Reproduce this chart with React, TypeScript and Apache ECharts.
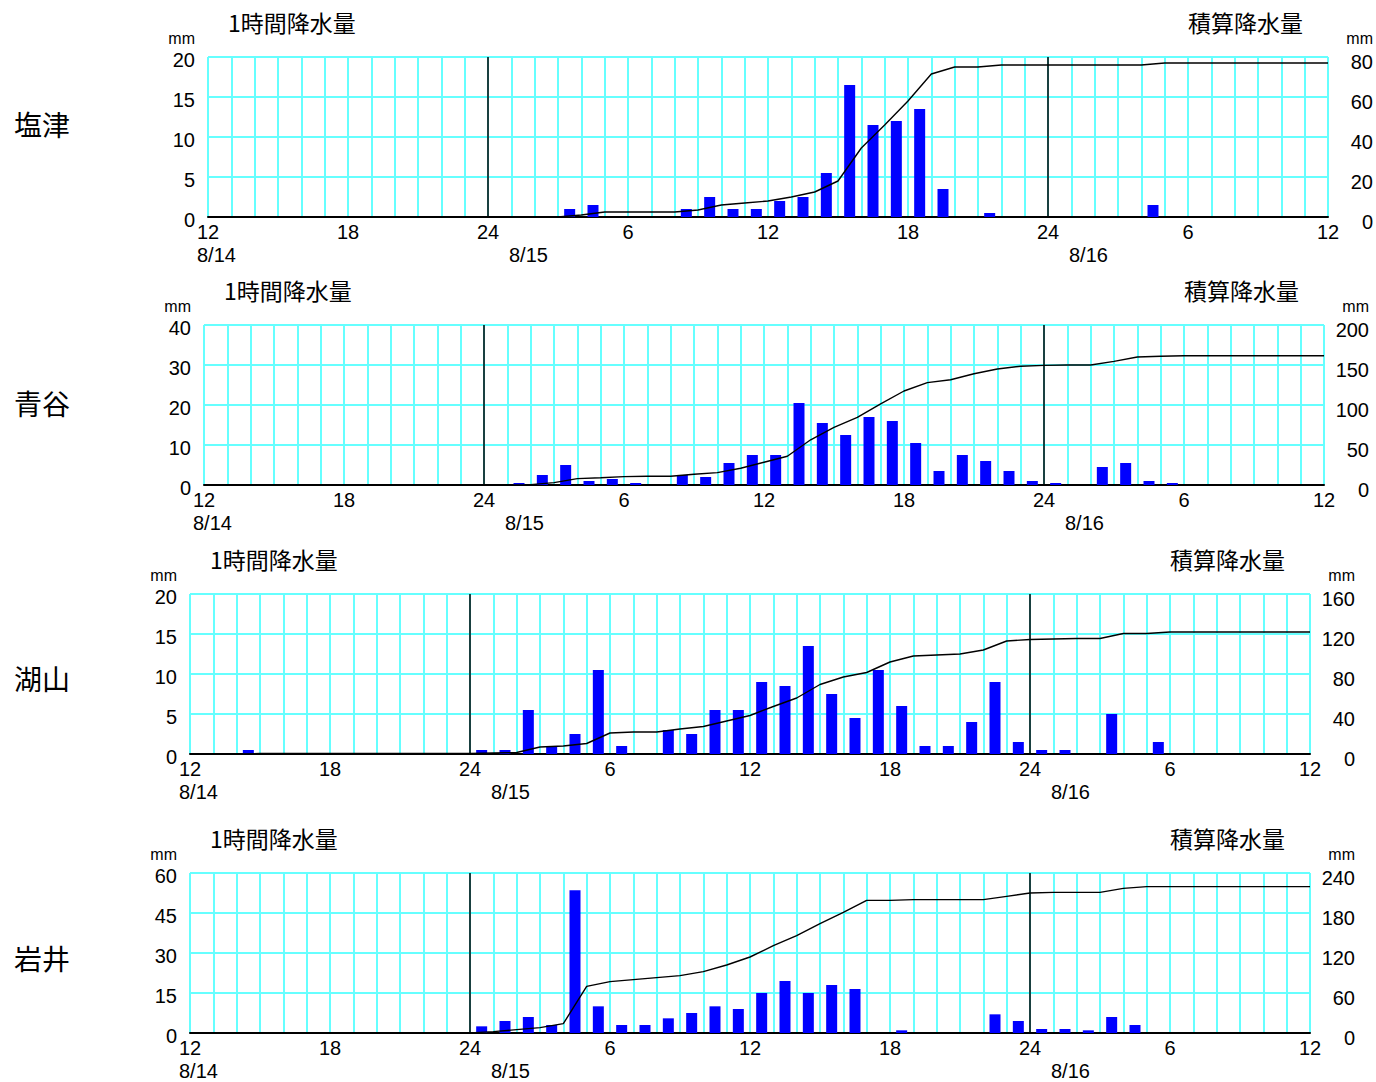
import React, { useEffect, useRef } from "react";
import * as echarts from "echarts";

// ---- data ----
const STATIONS = ["塩津", "青谷", "湖山", "岩井"];
const X_TICK_LABELS = ["12", "18", "24", "6", "12", "18", "24", "6", "12"];
const DATE_LABELS = ["8/14", "8/15", "8/16"];
const LEFT_TITLE = "1時間降水量";
const RIGHT_TITLE = "積算降水量";
const UNIT = "mm";

// hourly rainfall (mm), 48 hourly cells from 8/14 12:00 to 8/16 12:00
const hourlyShiotsu = [
  0, 0, 0, 0, 0, 0, 0, 0, 0, 0, 0, 0,
  0, 0, 0, 1, 1.5, 0, 0, 0, 1, 2.5, 1, 1,
  2, 2.5, 5.5, 16.5, 11.5, 12, 13.5, 3.5, 0, 0.5, 0, 0,
  0, 0, 0, 0, 1.5, 0, 0, 0, 0, 0, 0, 0,
];
const hourlyAoya = [
  0, 0, 0, 0, 0, 0, 0, 0, 0, 0, 0, 0,
  0, 0.5, 2.5, 5, 1, 1.5, 0.5, 0, 2.5, 2, 5.5, 7.5,
  7.5, 20.5, 15.5, 12.5, 17, 16, 10.5, 3.5, 7.5, 6, 3.5, 1,
  0.5, 0, 4.5, 5.5, 1, 0.5, 0, 0, 0, 0, 0, 0,
];
const hourlyKoyama = [
  0, 0, 0.5, 0, 0, 0, 0, 0, 0, 0, 0, 0,
  0.5, 0.5, 5.5, 1, 2.5, 10.5, 1, 0, 3, 2.5, 5.5, 5.5,
  9, 8.5, 13.5, 7.5, 4.5, 10.5, 6, 1, 1, 4, 9, 1.5,
  0.5, 0.5, 0, 5, 0, 1.5, 0, 0, 0, 0, 0, 0,
];
const hourlyIwai = [
  0, 0, 0, 0, 0, 0, 0, 0, 0, 0, 0, 0,
  2.5, 4.5, 6, 3, 53.5, 10, 3, 3, 5.5, 7.5, 10, 9,
  15, 19.5, 15, 18, 16.5, 0, 1, 0, 0, 0, 7, 4.5,
  1.5, 1.5, 1, 6, 3, 0, 0, 0, 0, 0, 0, 0,
];

// cumulative rainfall (mm) at the 49 hour boundaries (null = not drawn)
const N = null;
const cumShiotsu = [
  N, N, N, N, N, N, N, N, N, N, N, N, N, N, N,
  0, 1, 2.5, 2.5, 2.5, 2.5, 3.5, 6, 7, 8, 10, 12.5, 18, 34.5, 46, 58, 71.5, 75, 75, 76,
  76, 76, 76, 76, 76, 76, 77, 77, 77, 77, 77, 77, 77, 77,
];
const cumAoya = [
  N, N, N, N, N, N, N, N, N, N, N, N, N,
  0, 0.5, 3, 8, 9, 10.5, 11, 11, 13.5, 15.5, 21, 28.5, 36, 56.5, 72, 84.5, 101.5, 117.5,
  128, 131.5, 139, 145, 148.5, 149.5, 150, 150, 154.5, 160, 161, 161.5,
  161.5, 161.5, 161.5, 161.5, 161.5, 161.5,
];
const cumKoyama = [
  N, N,
  0, 0.5, 0.5, 0.5, 0.5, 0.5, 0.5, 0.5, 0.5, 0.5, 0.5,
  1, 1.5, 7, 8, 10.5, 21, 22, 22, 25, 27.5, 33, 38.5, 47.5, 56, 69.5, 77, 81.5, 92,
  98, 99, 100, 104, 113, 114.5, 115, 115.5, 115.5, 120.5, 120.5, 122,
  122, 122, 122, 122, 122, 122,
];
const cumIwai = [
  N, N, N, N, N, N, N, N, N, N, N, N,
  0, 2, 5, 8, 14, 70, 77, 80, 83, 86, 92, 102, 114, 131, 146, 164, 181, 199,
  199, 200, 200, 200, 200, 205, 210, 211, 211, 211, 217, 219.5,
  219.5, 219.5, 219.5, 219.5, 219.5, 219.5, 219.5,
];

const HOURLY = [hourlyShiotsu, hourlyAoya, hourlyKoyama, hourlyIwai];
const CUMULATIVE = [cumShiotsu, cumAoya, cumKoyama, cumIwai];
const LEFT_MAX = [20, 40, 20, 60];
const LEFT_STEP = [5, 10, 5, 15];
const RIGHT_MAX = [80, 200, 160, 240];
const RIGHT_STEP = [20, 50, 40, 60];
const MIDNIGHTS = [12, 36];

// ---- layout ----
const PANELS = [
  { left: 208, top: 57, nameY: 124 },
  { left: 204, top: 325, nameY: 403 },
  { left: 190, top: 594, nameY: 678 },
  { left: 190, top: 873, nameY: 958 },
];
const PW = 1120;
const PH = 160;
const CYAN = "#66ffff";
const NUM_FONT = "'Liberation Sans', Arial, sans-serif";
const JP_FONT = "'Noto Sans CJK JP', sans-serif";

function buildOption() {
  const grid: any[] = [];
  const xAxis: any[] = [];
  const yAxis: any[] = [];
  const series: any[] = [];
  const graphic: any[] = [];

  PANELS.forEach((p, k) => {
    grid.push({ left: p.left, top: p.top, width: PW, height: PH, containLabel: false });
    xAxis.push({
      type: "value",
      gridIndex: k,
      min: 0,
      max: 48,
      interval: 1,
      axisLine: { show: true, onZero: false, lineStyle: { color: "#000", width: 2 } },
      axisTick: { show: false },
      splitLine: { show: true, lineStyle: { color: CYAN, width: 2 } },
      axisLabel: {
        margin: 5,
        color: "#000",
        fontSize: 20,
        fontFamily: NUM_FONT,
        formatter: (v: number) => (v % 6 === 0 ? X_TICK_LABELS[v / 6] : ""),
      },
    });
    yAxis.push({
      type: "value",
      gridIndex: k,
      min: 0,
      max: LEFT_MAX[k],
      interval: LEFT_STEP[k],
      position: "left",
      axisLine: { show: false },
      axisTick: { show: false },
      splitLine: { show: true, lineStyle: { color: CYAN, width: 2 } },
      axisLabel: {
        margin: 13,
        color: "#000",
        formatter: (v: number) => `{a|${v}}`,
        rich: {
          a: { fontSize: 20, fontFamily: NUM_FONT, color: "#000", padding: [6, 0, 0, 0] },
        },
      },
    });
    yAxis.push({
      type: "value",
      gridIndex: k,
      min: 0,
      max: RIGHT_MAX[k],
      interval: RIGHT_STEP[k],
      position: "right",
      axisLine: { show: false },
      axisTick: { show: false },
      splitLine: { show: false },
      axisLabel: {
        margin: 45,
        align: "right",
        color: "#000",
        formatter: (v: number) => `{a|${v}}`,
        rich: {
          a: { fontSize: 20, fontFamily: NUM_FONT, color: "#000", padding: [10, 0, 0, 0] },
        },
      },
    });

    const bars = HOURLY[k]
      .map((v, i) => [i + 0.5, v])
      .filter((d) => (d[1] as number) > 0);
    series.push({
      type: "bar",
      xAxisIndex: k,
      yAxisIndex: 2 * k,
      data: bars,
      barWidth: 11,
      itemStyle: { color: "#0000ff" },
      z: 3,
      markLine: {
        silent: true,
        symbol: "none",
        label: { show: false },
        lineStyle: { color: "#000", width: 1.5, type: "solid" },
        data: MIDNIGHTS.map((m) => ({ xAxis: m })),
      },
    });
    const line = CUMULATIVE[k]
      .map((v, b) => (v === null ? null : [b, v]))
      .filter((d) => d !== null);
    series.push({
      type: "line",
      xAxisIndex: k,
      yAxisIndex: 2 * k + 1,
      data: line,
      showSymbol: false,
      symbol: "none",
      lineStyle: { color: "#000", width: 1.4 },
      z: 5,
    });

    const right = p.left + PW;
    const txt = (text: string, x: number, y: number, size: number, family: string, align = "left") => ({
      type: "text",
      x,
      y,
      silent: true,
      style: {
        text,
        fill: "#000",
        fontSize: size,
        fontFamily: family,
        align,
        verticalAlign: "middle",
      },
    });
    graphic.push(txt(STATIONS[k], 14, p.nameY, 28, JP_FONT));
    graphic.push(txt(LEFT_TITLE, p.left + 20, p.top - 35, 23, JP_FONT));
    graphic.push(txt(RIGHT_TITLE, right - 140, p.top - 35, 23, JP_FONT));
    graphic.push(txt(UNIT, p.left - 13, p.top - 19, 16, NUM_FONT, "right"));
    graphic.push(txt(UNIT, right + 45, p.top - 19, 16, NUM_FONT, "right"));
    const dateX = [p.left - 11, p.left + 301, p.left + 861];
    DATE_LABELS.forEach((d, j) => {
      graphic.push(txt(d, dateX[j], p.top + PH + 38, 20, NUM_FONT));
    });
  });

  return {
    animation: false,
    backgroundColor: "#fff",
    grid,
    xAxis,
    yAxis,
    series,
    graphic,
  };
}

export default function App() {
  const ref = useRef<HTMLDivElement>(null);
  useEffect(() => {
    if (!ref.current) return;
    const chart = echarts.init(ref.current, undefined, { renderer: "svg" });
    chart.setOption(buildOption() as any);
    return () => chart.dispose();
  }, []);
  return (
    <div
      ref={ref}
      style={{ position: "absolute", left: 0, top: 0, width: 1376, height: 1082, background: "#fff" }}
    />
  );
}
